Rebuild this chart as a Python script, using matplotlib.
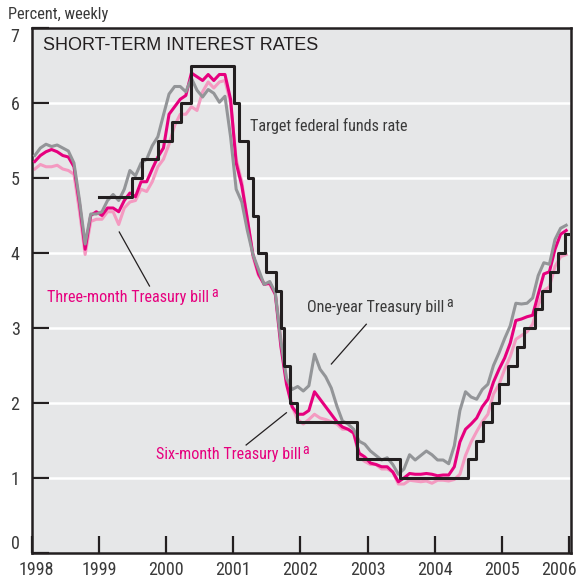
import numpy as np
import pandas as pd
import matplotlib
matplotlib.use('Agg')
import matplotlib.pyplot as plt
from matplotlib import font_manager
from matplotlib.transforms import ScaledTranslation

# monthly readings, Jan 1998 - Dec 2005 (percent)
one_year = [5.30, 5.40, 5.45, 5.42, 5.44, 5.40, 5.36, 5.20, 4.70, 4.12, 4.52, 4.52,
            4.55, 4.70, 4.78, 4.70, 4.85, 5.10, 5.03, 5.20, 5.25, 5.43, 5.55, 5.84,
            6.12, 6.22, 6.22, 6.15, 6.33, 6.17, 6.08, 6.18, 6.13, 6.01, 6.09, 5.55,
            4.85, 4.68, 4.30, 3.98, 3.78, 3.58, 3.62, 3.47, 2.82, 2.33, 2.18, 2.22,
            2.16, 2.23, 2.65, 2.45, 2.35, 2.20, 1.96, 1.76, 1.72, 1.65, 1.49, 1.45,
            1.36, 1.30, 1.24, 1.27, 1.18, 1.05, 1.12, 1.31, 1.24, 1.30, 1.36, 1.31,
            1.24, 1.24, 1.19, 1.43, 1.90, 2.15, 2.08, 2.05, 2.18, 2.25, 2.50, 2.67,
            2.86, 3.03, 3.33, 3.32, 3.33, 3.40, 3.70, 3.87, 3.85, 4.18, 4.33, 4.37]

six_month = [5.22, 5.30, 5.35, 5.38, 5.35, 5.30, 5.28, 5.15, 4.65, 4.05, 4.50, 4.55,
             4.50, 4.60, 4.60, 4.55, 4.70, 4.80, 4.75, 4.95, 4.95, 5.12, 5.28, 5.40,
             5.85, 5.95, 6.05, 6.10, 6.40, 6.35, 6.30, 6.38, 6.30, 6.38, 6.38, 6.05,
             5.20, 4.90, 4.45, 3.98, 3.72, 3.58, 3.60, 3.45, 2.75, 2.25, 1.95, 1.85,
             1.85, 1.90, 2.15, 2.05, 1.95, 1.85, 1.75, 1.68, 1.65, 1.60, 1.33, 1.28,
             1.20, 1.18, 1.15, 1.15, 1.08, 0.95, 1.00, 1.06, 1.05, 1.05, 1.06, 1.05,
             1.03, 1.04, 1.04, 1.15, 1.48, 1.65, 1.72, 1.80, 1.95, 2.05, 2.28, 2.45,
             2.60, 2.80, 3.10, 3.12, 3.15, 3.17, 3.45, 3.72, 3.75, 4.05, 4.25, 4.30]

three_month = [5.12, 5.18, 5.15, 5.15, 5.17, 5.12, 5.10, 5.05, 4.55, 3.98, 4.42, 4.45,
               4.45, 4.55, 4.55, 4.38, 4.60, 4.68, 4.70, 4.85, 4.82, 4.95, 5.15, 5.25,
               5.45, 5.70, 5.85, 5.85, 5.95, 5.90, 6.15, 6.28, 6.20, 6.28, 6.30, 6.00,
               5.25, 4.95, 4.45, 3.95, 3.70, 3.60, 3.58, 3.45, 2.85, 2.30, 1.95, 1.78,
               1.72, 1.78, 1.85, 1.80, 1.78, 1.75, 1.72, 1.65, 1.65, 1.60, 1.28, 1.22,
               1.18, 1.18, 1.12, 1.12, 1.08, 0.92, 0.92, 0.97, 0.96, 0.95, 0.96, 0.93,
               0.97, 0.97, 0.96, 0.98, 1.05, 1.30, 1.48, 1.62, 1.75, 1.85, 2.12, 2.25,
               2.45, 2.62, 2.85, 2.90, 2.95, 3.05, 3.30, 3.50, 3.55, 3.82, 3.95, 3.98]

# target federal funds rate changes
fed_dates = ['1999-01-01', '1999-06-30', '1999-08-24', '1999-11-16', '2000-02-02',
             '2000-03-21', '2000-05-16', '2001-01-03', '2001-01-31', '2001-03-20',
             '2001-04-18', '2001-05-15', '2001-06-27', '2001-08-21', '2001-09-17',
             '2001-10-02', '2001-11-06', '2001-12-11', '2002-11-06', '2003-06-25',
             '2004-06-30', '2004-08-10', '2004-09-21', '2004-11-10', '2004-12-14',
             '2005-02-02', '2005-03-22', '2005-05-03', '2005-06-30', '2005-08-09',
             '2005-09-20', '2005-11-01', '2005-12-13', '2005-12-28']
fed_rates = [4.75, 5.00, 5.25, 5.50, 5.75, 6.00, 6.50, 6.00, 5.50, 5.00,
             4.50, 4.00, 3.75, 3.50, 3.00, 2.50, 2.00, 1.75, 1.25, 1.00,
             1.25, 1.50, 1.75, 2.00, 2.25, 2.50, 2.75, 3.00, 3.25, 3.50,
             3.75, 4.00, 4.25, 4.25]

years = [1998, 1999, 2000, 2001, 2002, 2003, 2004, 2005, 2006]
yticks = [0, 1, 2, 3, 4, 5, 6, 7]

# pick a condensed face if there is one
fonts = font_manager.fontManager.ttflist
names = {f.name for f in fonts}
narrow = None
stretch = 'normal'
for cand in ['Liberation Sans Narrow', 'Roboto Condensed', 'Open Sans Condensed',
             'Noto Sans Condensed', 'Arial Narrow']:
    if cand in names:
        narrow = cand
        break
if narrow is None:
    if any(f.name == 'DejaVu Sans' and 'Condensed' in f.fname for f in fonts):
        narrow, stretch = 'DejaVu Sans', 'condensed'
    elif 'Roboto' in names:
        narrow = 'Roboto'
    else:
        narrow = 'DejaVu Sans'
plt.rcParams['font.family'] = [narrow, 'DejaVu Sans']
plt.rcParams['font.stretch'] = stretch
title_font = 'Liberation Sans' if 'Liberation Sans' in names else narrow

MAGENTA = '#e6007e'
PINK = '#f49ac1'
GRAY = '#939598'
BLACK = '#231f20'
TXT = '#3a3a3a'

t_month = 1998 + (np.arange(len(one_year)) + 0.5) / 12
fd = pd.to_datetime(fed_dates)
t_fed = fd.year + (fd.dayofyear - 1) / 365.0

fig = plt.figure(figsize=(5.79, 5.84), dpi=100)
ax = fig.add_axes([32 / 579, 31 / 584, 539 / 579, 525 / 584])
ax.set_facecolor('#e6e7e8')

for y in range(1, 7):
    ax.axhline(y, color='white', lw=1.8, zorder=1)

ax.plot(t_month, three_month, color=PINK, lw=2.2, zorder=2)
ax.plot(t_month, six_month, color=MAGENTA, lw=2.2, zorder=3)
ax.plot(t_month, one_year, color=GRAY, lw=2.2, zorder=4)
ax.step(t_fed, fed_rates, where='post', color=BLACK, lw=2.2, zorder=5)

ax.set_xlim(1998, 2006.03)
ax.set_ylim(0, 7)
ax.set_xticks(years)
ax.set_yticks(yticks)
ax.tick_params(direction='in', length=12, width=1.6, color=BLACK,
               labelsize=13, labelcolor=TXT)
ax.tick_params(axis='y', pad=9)
ax.tick_params(axis='x', pad=6)
for s in ax.spines.values():
    s.set_linewidth(1.8)
    s.set_color(BLACK)

ylabels = ax.get_yticklabels()
ylabels[0].set_va('bottom')
ylabels[-1].set_va('top')
xlabels = ax.get_xticklabels()
xlabels[-1].set_transform(xlabels[-1].get_transform() +
                          ScaledTranslation(-10 / 100, 0, fig.dpi_scale_trans))
xlabels[0].set_transform(xlabels[0].get_transform() +
                         ScaledTranslation(4 / 100, 0, fig.dpi_scale_trans))

ax.text(1998.16, 6.77, 'SHORT-TERM INTEREST RATES', fontsize=13, color=BLACK,
        ha='left', va='center', family=title_font, stretch='normal')
fig.text(8 / 579, 1 - 14 / 584, 'Percent, weekly', fontsize=11.8, color=TXT,
         ha='left', va='center')

ax.text(2001.25, 5.69, 'Target federal funds rate', fontsize=11.6, color=TXT,
        ha='left', va='center')

labels = [(1998.23, 3.41, 'Three-month Treasury bill', MAGENTA),
          (1999.84, 1.31, 'Six-month Treasury bill', MAGENTA),
          (2002.10, 3.27, 'One-year Treasury bill', TXT)]
fig.canvas.draw()
renderer = fig.canvas.get_renderer()
for x, y, s, c in labels:
    t = ax.text(x, y, s, fontsize=11.6, color=c, ha='left', va='center')
    bb = t.get_window_extent(renderer)
    xr, yt = ax.transData.inverted().transform((bb.x1 + 2, bb.y1 + 4))
    ax.text(xr, yt, 'a', fontsize=10, color=c, ha='left', va='top')

ax.plot([1999.30, 1999.75], [4.28, 3.56], color=BLACK, lw=0.9, zorder=6)
ax.plot([2001.19, 2001.79], [1.44, 1.87], color=BLACK, lw=0.9, zorder=6)
ax.plot([2002.98, 2002.46], [3.05, 2.52], color=BLACK, lw=0.9, zorder=6)

fig.savefig('out.png', dpi=100)
